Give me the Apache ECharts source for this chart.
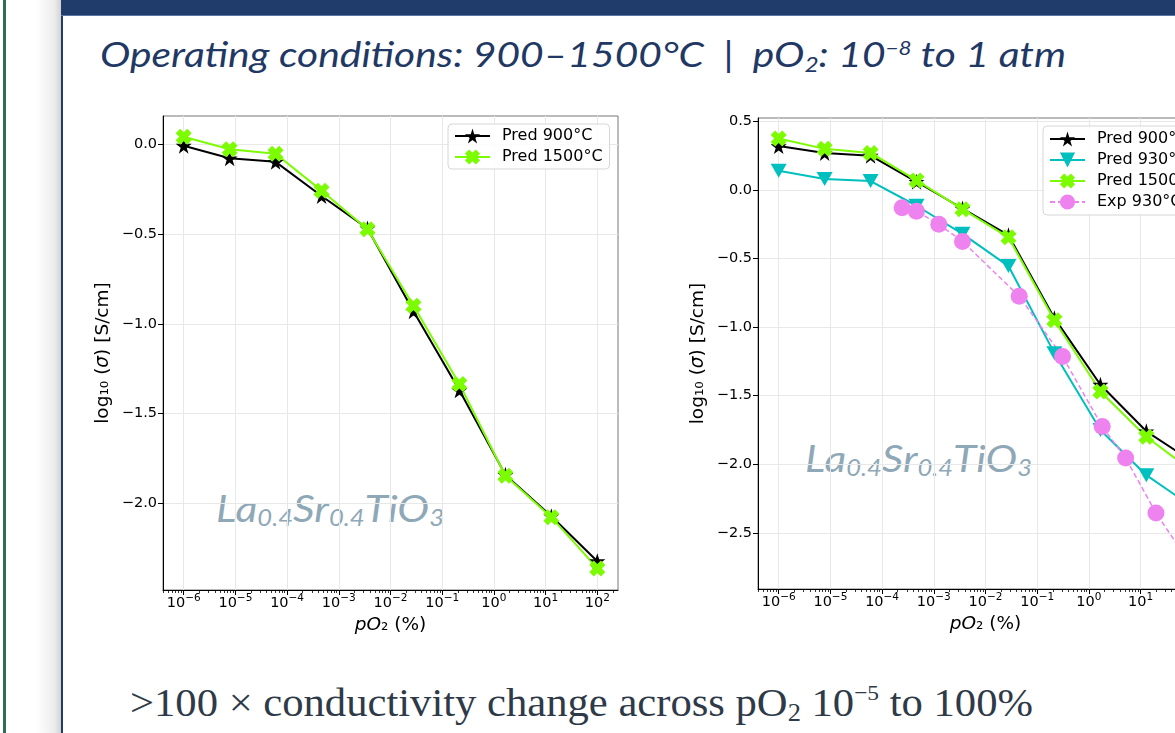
<!DOCTYPE html>
<html>
<head>
<meta charset="utf-8">
<script src="https://cdn.jsdelivr.net/npm/echarts@6/dist/echarts.min.js"></script>
<style>
  html, body { margin: 0; padding: 0; width: 1175px; height: 733px; overflow: hidden; background: #fff; }
  #strip { position: absolute; left: 3px; top: 0; width: 3px; height: 733px; background: #2f6e50; }
  #shade { position: absolute; left: 6px; top: 0; width: 55px; height: 733px;
           background: linear-gradient(to right, #fff 0%, #fff 55%, #ececec 88%, #d2d2d2 100%); }
  #slide { position: absolute; left: 61px; top: 0; width: 1114px; height: 733px; background: #fff;
           border-left: 2px solid #1f3c6a; box-sizing: border-box; }
  #bar { position: absolute; left: 61px; top: 0; width: 1114px; height: 15px; background: #1f3c6a;
         border-bottom: 1px solid #5877a3; }
  .txt { position: absolute; white-space: nowrap; transform-origin: 0 0; line-height: 1; }
  .txt sub, .txt sup { line-height: 0; }
  #title { left: 100px; top: 36px; font-family: Lato, sans-serif; font-style: italic; font-size: 35px; color: #1f3864; }
  #title sub { font-size: .6em; vertical-align: -0.25em; }
  #title sup { font-size: .55em; vertical-align: 0.65em; }
  #bottom { left: 130px; top: 683px; font-family: "Liberation Serif", serif; font-size: 40px; color: #2e3a48; }
  #bottom sub { font-size: .62em; vertical-align: -0.2em; }
  #bottom sup { font-size: .55em; vertical-align: 0.75em; }
  .wm { font-family: Lato, sans-serif; font-style: italic; font-size: 37px; color: #8fa8b7; }
  .wm sub { font-size: .6em; vertical-align: -4px; }
  #wmL { left: 216px; top: 489px; }
  #wmR { left: 805px; top: 439px; }
  #chart { position: absolute; left: 0; top: 0; width: 1175px; height: 733px; }
</style>
</head>
<body>
<div id="strip"></div>
<div id="shade"></div>
<div id="slide"></div>
<div id="bar"></div>
<div class="txt" id="title">Operating conditions: 900–1500°C &nbsp;|&nbsp; pO<sub>2</sub>: 10<sup>−8</sup> to 1 atm</div>
<div class="txt wm" id="wmL">La<sub>0.4</sub>Sr<sub>0.4</sub>TiO<sub>3</sub></div>
<div class="txt wm" id="wmR">La<sub>0.4</sub>Sr<sub>0.4</sub>TiO<sub>3</sub></div>
<div class="txt" id="bottom">&gt;100 × conductivity change across pO<sub>2</sub> 10<sup>−5</sup> to 100%</div>
<div id="chart"></div>
<script>
// pO2 (%) of the predicted points and of the measured points
const pO2Pred = [1e-6, 7.74e-6, 5.99e-5, 4.64e-4, 3.59e-3, 2.78e-2, 0.215, 1.67, 12.9, 100];
const pO2Exp = [2.44e-4, 4.62e-4, 1.25e-3, 3.59e-3, 4.49e-2, 0.309, 1.81, 5.13, 19.8, 100];

// log10(sigma) values, left panel
const leftPred900 = [-0.01, -0.08, -0.10, -0.29, -0.47, -0.93, -1.37, -1.84, -2.07, -2.32];
const leftPred1500 = [0.04, -0.03, -0.055, -0.26, -0.475, -0.90, -1.335, -1.845, -2.075, -2.36];

// log10(sigma) values, right panel
const rightPred900 = [0.32, 0.27, 0.25, 0.06, -0.135, -0.33, -0.935, -1.42, -1.76, -1.98];
const rightPred930 = [0.14, 0.08, 0.065, -0.115, -0.32, -0.555, -1.19, -1.75, -2.08, -2.31];
const rightPred1500 = [0.375, 0.30, 0.27, 0.07, -0.14, -0.345, -0.95, -1.47, -1.80, -2.05];
const rightExp930 = [-0.13, -0.155, -0.25, -0.375, -0.775, -1.215, -1.725, -1.955, -2.355, -2.75];

// tick labels
const decades = [-6, -5, -4, -3, -2, -1, 0, 1, 2];
const leftYTicks = [-2.0, -1.5, -1.0, -0.5, 0.0];
const rightYTicks = [-2.5, -2.0, -1.5, -1.0, -0.5, 0.0, 0.5];

const STAR = 'path://M50,0 L61,35 L98,35 L68,57 L79,91 L50,70 L21,91 L32,57 L2,35 L39,35 Z';
const XMARK = 'path://M0,28 L28,0 L50,22 L72,0 L100,28 L78,50 L100,72 L72,100 L50,78 L28,100 L0,72 L22,50 Z';
const FONT = 'DejaVu Sans';

// minor ticks of the log axis (2..9 x 10^n)
const minorTicks = [];
for (let d = -7; d <= 2; d++) {
  for (let k = 2; k <= 9; k++) {
    const v = d + Math.log10(k);
    if (v > -6.4 && v < 2.4) minorTicks.push(v);
  }
}

function pts(xs, ys) {
  return xs.map((x, i) => [Math.log10(x), ys[i]]);
}
function fmtPow(v) {
  const e = Math.round(v);
  return '{b|10}{s|' + String(e).replace('-', '−') + '}';
}
function fmtY(v) {
  return (v < -1e-9 ? '−' : '') + Math.abs(v).toFixed(1);
}

function xMain(gi) {
  return {
    type: 'value', gridIndex: gi, min: -6.4, max: 2.4,
    axisLine: { show: true, onZero: false, lineStyle: { color: '#000', width: 1 } },
    axisTick: { show: true, customValues: decades, length: 5, lineStyle: { color: '#000' } },
    axisLabel: {
      customValues: decades, formatter: fmtPow, margin: 3, color: '#000',
      rich: {
        b: { fontSize: 14.5, fontFamily: FONT, color: '#000', lineHeight: 20, verticalAlign: 'middle' },
        s: { fontSize: 10.5, fontFamily: FONT, color: '#000', lineHeight: 10, verticalAlign: 'top' }
      }
    },
    splitLine: { show: true, lineStyle: { color: '#e8e8e8', width: 1 } },
    name: '{i|pO}{n|₂ (%)}', nameLocation: 'middle', nameGap: 25,
    nameTextStyle: {
      rich: {
        i: { fontSize: 18.5, fontFamily: FONT, fontStyle: 'italic', color: '#000' },
        n: { fontSize: 18.5, fontFamily: FONT, color: '#000' }
      }
    }
  };
}
function xMinor(gi) {
  return {
    type: 'value', gridIndex: gi, min: -6.4, max: 2.4, position: 'bottom',
    axisLine: { show: false, onZero: false },
    axisTick: { show: true, customValues: minorTicks, length: 3, lineStyle: { color: '#000', width: 0.8 } },
    axisLabel: { show: false },
    splitLine: { show: false }
  };
}
function yAxis(gi, min, max, ticks) {
  return {
    type: 'value', gridIndex: gi, min: min, max: max,
    axisLine: { show: true, onZero: false, lineStyle: { color: '#000', width: 1 } },
    axisTick: { show: true, customValues: ticks, length: 5, lineStyle: { color: '#000' } },
    axisLabel: { customValues: ticks, formatter: fmtY, margin: 6, fontSize: 14.5, fontFamily: FONT, color: '#000' },
    splitLine: { show: true, lineStyle: { color: '#e8e8e8', width: 1 } },
    name: '{n|log₁₀ (}{i|σ}{n|) [S/cm]}', nameLocation: 'middle', nameGap: 50,
    nameTextStyle: {
      rich: {
        i: { fontSize: 18.5, fontFamily: FONT, fontStyle: 'italic', color: '#000' },
        n: { fontSize: 18.5, fontFamily: FONT, color: '#000' }
      }
    }
  };
}
function lineSeries(name, xi, yi, data, color, symbol, size, extra) {
  return Object.assign({
    type: 'line', name: name, xAxisIndex: xi, yAxisIndex: yi, data: data,
    symbol: symbol, symbolSize: size, showSymbol: true, showAllSymbol: true,
    lineStyle: { color: color, width: 2 }, itemStyle: { color: color },
    animation: false, clip: false, z: 2
  }, extra || {});
}

const legendBase = {
  orient: 'vertical', itemWidth: 35, itemHeight: 19, itemGap: 5,
  backgroundColor: 'rgba(255,255,255,0.85)', borderColor: '#d6d6d6', borderWidth: 1, borderRadius: 4,
  textStyle: { fontSize: 16, fontFamily: FONT, color: '#000', padding: [0, 0, 0, 7] },
  selectedMode: false
};

const chart = echarts.init(document.getElementById('chart'), null, { renderer: 'canvas' });
chart.setOption({
  backgroundColor: 'transparent',
  animation: false,
  grid: [
    { left: 163, top: 116, width: 455, height: 474, show: true, borderColor: '#777', borderWidth: 1,
      backgroundColor: 'transparent', containLabel: false, outerBoundsMode: 'none' },
    { left: 758, top: 118, width: 455, height: 471, show: true, borderColor: '#777', borderWidth: 1,
      backgroundColor: 'transparent', containLabel: false, outerBoundsMode: 'none' }
  ],
  xAxis: [xMain(0), xMinor(0), xMain(1), xMinor(1)],
  yAxis: [yAxis(0, -2.48, 0.155, leftYTicks), yAxis(1, -2.91, 0.525, rightYTicks)],
  legend: [
    Object.assign({}, legendBase, { left: 448, top: 124, padding: [4, 7, 4, 6],
      data: ['Pred 900°C', 'Pred 1500°C'] }),
    Object.assign({}, legendBase, { left: 1043, top: 126, padding: [5, 7, 5, 6],
      data: ['Pred 900°C', 'Pred 930°C', 'Pred 1500°C', 'Exp 930°C'] })
  ],
  series: [
    lineSeries('Pred 900°C', 0, 0, pts(pO2Pred, leftPred900), '#000000', STAR, 16),
    lineSeries('Pred 1500°C', 0, 0, pts(pO2Pred, leftPred1500), '#7cfc00', XMARK, 16),
    lineSeries('Pred 900°C', 2, 1, pts(pO2Pred, rightPred900), '#000000', STAR, 16),
    lineSeries('Pred 930°C', 2, 1, pts(pO2Pred, rightPred930), '#00bfbf', 'triangle', [16, 14], { symbolRotate: 180 }),
    lineSeries('Pred 1500°C', 2, 1, pts(pO2Pred, rightPred1500), '#7cfc00', XMARK, 16),
    lineSeries('Exp 930°C', 2, 1, pts(pO2Exp, rightExp930), '#ee82ee', 'circle', 17,
      { lineStyle: { color: '#ee82ee', width: 1.5, type: [5, 3] } })
  ]
});

// squeeze the slide texts to the widths they take in the slide
function fitWidth(id, w) {
  const el = document.getElementById(id);
  const r = el.getBoundingClientRect().width;
  el.style.transform = 'scaleX(' + (w / r) + ')';
}
fitWidth('title', 966);
fitWidth('bottom', 903);
fitWidth('wmL', 228);
fitWidth('wmR', 227);
</script>
</body>
</html>
